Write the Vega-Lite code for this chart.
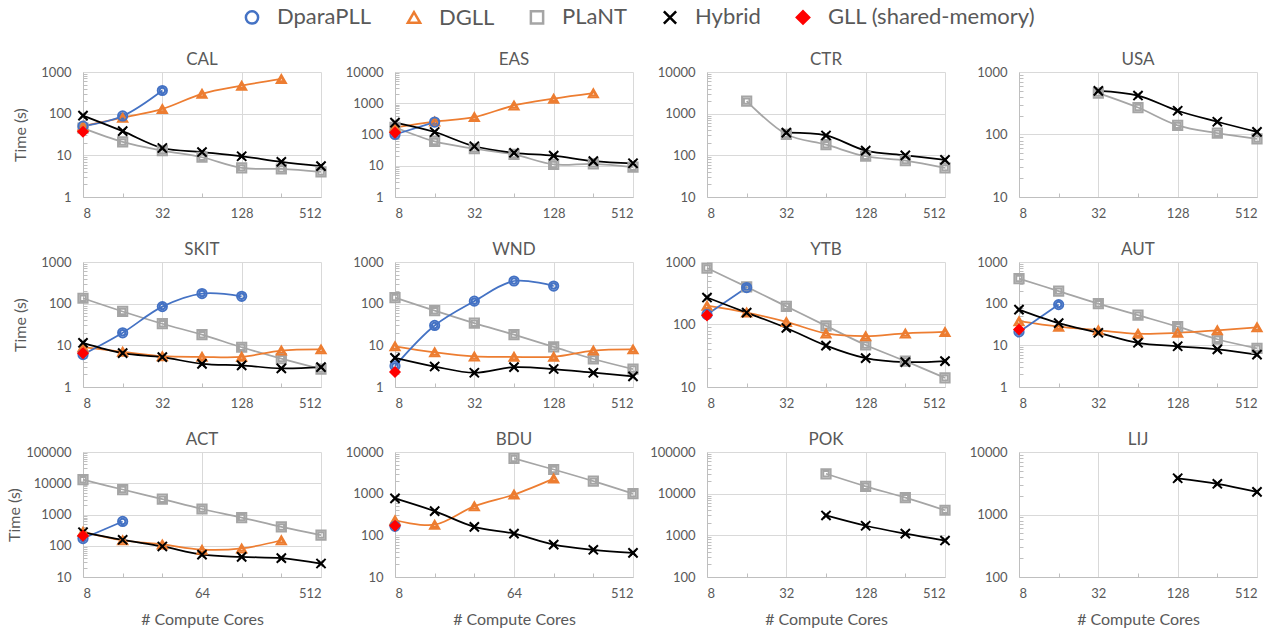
{
"$schema":"https://vega.github.io/schema/vega-lite/v6.json",
"autosize":{"type":"none"},
"padding":{"left":83,"top":72,"right":1190,"bottom":561},
"background":"white",
"columns":4,
"spacing":{"row":65,"column":74},
"bounds":"flush",
"data":{"values":[
{"panel":"CAL","series":"PLaNT","cores":8,"time":45},{"panel":"CAL","series":"PLaNT","cores":16,"time":21},{"panel":"CAL","series":"PLaNT","cores":32,"time":13},{"panel":"CAL","series":"PLaNT","cores":64,"time":9},{"panel":"CAL","series":"PLaNT","cores":128,"time":5},{"panel":"CAL","series":"PLaNT","cores":256,"time":4.7},{"panel":"CAL","series":"PLaNT","cores":512,"time":4},
{"panel":"CAL","series":"DGLL","cores":8,"time":50},{"panel":"CAL","series":"DGLL","cores":16,"time":80},{"panel":"CAL","series":"DGLL","cores":32,"time":130},{"panel":"CAL","series":"DGLL","cores":64,"time":300},{"panel":"CAL","series":"DGLL","cores":128,"time":470},{"panel":"CAL","series":"DGLL","cores":256,"time":680},
{"panel":"CAL","series":"DparaPLL","cores":8,"time":50},{"panel":"CAL","series":"DparaPLL","cores":16,"time":88},{"panel":"CAL","series":"DparaPLL","cores":32,"time":360},
{"panel":"CAL","series":"Hybrid","cores":8,"time":90},{"panel":"CAL","series":"Hybrid","cores":16,"time":38},{"panel":"CAL","series":"Hybrid","cores":32,"time":15},{"panel":"CAL","series":"Hybrid","cores":64,"time":12},{"panel":"CAL","series":"Hybrid","cores":128,"time":9.5},{"panel":"CAL","series":"Hybrid","cores":256,"time":7},{"panel":"CAL","series":"Hybrid","cores":512,"time":5.5},
{"panel":"CAL","series":"GLL (shared-memory)","cores":8,"time":37},
{"panel":"EAS","series":"PLaNT","cores":8,"time":170},{"panel":"EAS","series":"PLaNT","cores":16,"time":60},{"panel":"EAS","series":"PLaNT","cores":32,"time":35},{"panel":"EAS","series":"PLaNT","cores":64,"time":23},{"panel":"EAS","series":"PLaNT","cores":128,"time":11},{"panel":"EAS","series":"PLaNT","cores":256,"time":11.5},{"panel":"EAS","series":"PLaNT","cores":512,"time":9},
{"panel":"EAS","series":"DGLL","cores":8,"time":170},{"panel":"EAS","series":"DGLL","cores":16,"time":260},{"panel":"EAS","series":"DGLL","cores":32,"time":360},{"panel":"EAS","series":"DGLL","cores":64,"time":850},{"panel":"EAS","series":"DGLL","cores":128,"time":1400},{"panel":"EAS","series":"DGLL","cores":256,"time":2100},
{"panel":"EAS","series":"DparaPLL","cores":8,"time":100},{"panel":"EAS","series":"DparaPLL","cores":16,"time":250},
{"panel":"EAS","series":"Hybrid","cores":8,"time":240},{"panel":"EAS","series":"Hybrid","cores":16,"time":120},{"panel":"EAS","series":"Hybrid","cores":32,"time":42},{"panel":"EAS","series":"Hybrid","cores":64,"time":26},{"panel":"EAS","series":"Hybrid","cores":128,"time":21},{"panel":"EAS","series":"Hybrid","cores":256,"time":14},{"panel":"EAS","series":"Hybrid","cores":512,"time":12},
{"panel":"EAS","series":"GLL (shared-memory)","cores":8,"time":115},
{"panel":"CTR","series":"PLaNT","cores":16,"time":2000},{"panel":"CTR","series":"PLaNT","cores":32,"time":320},{"panel":"CTR","series":"PLaNT","cores":64,"time":180},{"panel":"CTR","series":"PLaNT","cores":128,"time":95},{"panel":"CTR","series":"PLaNT","cores":256,"time":75},{"panel":"CTR","series":"PLaNT","cores":512,"time":50},
{"panel":"CTR","series":"Hybrid","cores":32,"time":350},{"panel":"CTR","series":"Hybrid","cores":64,"time":300},{"panel":"CTR","series":"Hybrid","cores":128,"time":130},{"panel":"CTR","series":"Hybrid","cores":256,"time":100},{"panel":"CTR","series":"Hybrid","cores":512,"time":78},
{"panel":"USA","series":"PLaNT","cores":32,"time":460},{"panel":"USA","series":"PLaNT","cores":64,"time":270},{"panel":"USA","series":"PLaNT","cores":128,"time":140},{"panel":"USA","series":"PLaNT","cores":256,"time":105},{"panel":"USA","series":"PLaNT","cores":512,"time":85},
{"panel":"USA","series":"Hybrid","cores":32,"time":500},{"panel":"USA","series":"Hybrid","cores":64,"time":420},{"panel":"USA","series":"Hybrid","cores":128,"time":240},{"panel":"USA","series":"Hybrid","cores":256,"time":160},{"panel":"USA","series":"Hybrid","cores":512,"time":110},
{"panel":"SKIT","series":"PLaNT","cores":8,"time":135},{"panel":"SKIT","series":"PLaNT","cores":16,"time":65},{"panel":"SKIT","series":"PLaNT","cores":32,"time":33},{"panel":"SKIT","series":"PLaNT","cores":64,"time":18},{"panel":"SKIT","series":"PLaNT","cores":128,"time":9},{"panel":"SKIT","series":"PLaNT","cores":256,"time":4.8},{"panel":"SKIT","series":"PLaNT","cores":512,"time":2.7},
{"panel":"SKIT","series":"DGLL","cores":8,"time":9},{"panel":"SKIT","series":"DGLL","cores":16,"time":7},{"panel":"SKIT","series":"DGLL","cores":32,"time":5.5},{"panel":"SKIT","series":"DGLL","cores":64,"time":5.3},{"panel":"SKIT","series":"DGLL","cores":128,"time":5.3},{"panel":"SKIT","series":"DGLL","cores":256,"time":7.5},{"panel":"SKIT","series":"DGLL","cores":512,"time":8},
{"panel":"SKIT","series":"DparaPLL","cores":8,"time":6},{"panel":"SKIT","series":"DparaPLL","cores":16,"time":20},{"panel":"SKIT","series":"DparaPLL","cores":32,"time":85},{"panel":"SKIT","series":"DparaPLL","cores":64,"time":175},{"panel":"SKIT","series":"DparaPLL","cores":128,"time":150},
{"panel":"SKIT","series":"Hybrid","cores":8,"time":11.5},{"panel":"SKIT","series":"Hybrid","cores":16,"time":6.5},{"panel":"SKIT","series":"Hybrid","cores":32,"time":5.2},{"panel":"SKIT","series":"Hybrid","cores":64,"time":3.6},{"panel":"SKIT","series":"Hybrid","cores":128,"time":3.3},{"panel":"SKIT","series":"Hybrid","cores":256,"time":2.8},{"panel":"SKIT","series":"Hybrid","cores":512,"time":3.0},
{"panel":"SKIT","series":"GLL (shared-memory)","cores":8,"time":6.5},
{"panel":"WND","series":"PLaNT","cores":8,"time":140},{"panel":"WND","series":"PLaNT","cores":16,"time":68},{"panel":"WND","series":"PLaNT","cores":32,"time":34},{"panel":"WND","series":"PLaNT","cores":64,"time":18},{"panel":"WND","series":"PLaNT","cores":128,"time":9.2},{"panel":"WND","series":"PLaNT","cores":256,"time":4.7},{"panel":"WND","series":"PLaNT","cores":512,"time":2.7},
{"panel":"WND","series":"DGLL","cores":8,"time":9.5},{"panel":"WND","series":"DGLL","cores":16,"time":6.8},{"panel":"WND","series":"DGLL","cores":32,"time":5.4},{"panel":"WND","series":"DGLL","cores":64,"time":5.3},{"panel":"WND","series":"DGLL","cores":128,"time":5.3},{"panel":"WND","series":"DGLL","cores":256,"time":7.5},{"panel":"WND","series":"DGLL","cores":512,"time":8},
{"panel":"WND","series":"DparaPLL","cores":8,"time":3.2},{"panel":"WND","series":"DparaPLL","cores":16,"time":30},{"panel":"WND","series":"DparaPLL","cores":32,"time":115},{"panel":"WND","series":"DparaPLL","cores":64,"time":350},{"panel":"WND","series":"DparaPLL","cores":128,"time":265},
{"panel":"WND","series":"Hybrid","cores":8,"time":5},{"panel":"WND","series":"Hybrid","cores":16,"time":3.1},{"panel":"WND","series":"Hybrid","cores":32,"time":2.2},{"panel":"WND","series":"Hybrid","cores":64,"time":3.0},{"panel":"WND","series":"Hybrid","cores":128,"time":2.7},{"panel":"WND","series":"Hybrid","cores":256,"time":2.2},{"panel":"WND","series":"Hybrid","cores":512,"time":1.8},
{"panel":"WND","series":"GLL (shared-memory)","cores":8,"time":2.3},
{"panel":"YTB","series":"PLaNT","cores":8,"time":800},{"panel":"YTB","series":"PLaNT","cores":16,"time":400},{"panel":"YTB","series":"PLaNT","cores":32,"time":195},{"panel":"YTB","series":"PLaNT","cores":64,"time":95},{"panel":"YTB","series":"PLaNT","cores":128,"time":47},{"panel":"YTB","series":"PLaNT","cores":256,"time":26},{"panel":"YTB","series":"PLaNT","cores":512,"time":14},
{"panel":"YTB","series":"DGLL","cores":8,"time":200},{"panel":"YTB","series":"DGLL","cores":16,"time":155},{"panel":"YTB","series":"DGLL","cores":32,"time":110},{"panel":"YTB","series":"DGLL","cores":64,"time":72},{"panel":"YTB","series":"DGLL","cores":128,"time":65},{"panel":"YTB","series":"DGLL","cores":256,"time":72},{"panel":"YTB","series":"DGLL","cores":512,"time":76},
{"panel":"YTB","series":"DparaPLL","cores":8,"time":145},{"panel":"YTB","series":"DparaPLL","cores":16,"time":390},
{"panel":"YTB","series":"Hybrid","cores":8,"time":270},{"panel":"YTB","series":"Hybrid","cores":16,"time":155},{"panel":"YTB","series":"Hybrid","cores":32,"time":88},{"panel":"YTB","series":"Hybrid","cores":64,"time":46},{"panel":"YTB","series":"Hybrid","cores":128,"time":29},{"panel":"YTB","series":"Hybrid","cores":256,"time":25},{"panel":"YTB","series":"Hybrid","cores":512,"time":26},
{"panel":"YTB","series":"GLL (shared-memory)","cores":8,"time":140},
{"panel":"AUT","series":"PLaNT","cores":8,"time":400},{"panel":"AUT","series":"PLaNT","cores":16,"time":200},{"panel":"AUT","series":"PLaNT","cores":32,"time":100},{"panel":"AUT","series":"PLaNT","cores":64,"time":53},{"panel":"AUT","series":"PLaNT","cores":128,"time":28},{"panel":"AUT","series":"PLaNT","cores":256,"time":14},{"panel":"AUT","series":"PLaNT","cores":512,"time":8.5},
{"panel":"AUT","series":"DGLL","cores":8,"time":38},{"panel":"AUT","series":"DGLL","cores":16,"time":28},{"panel":"AUT","series":"DGLL","cores":32,"time":23},{"panel":"AUT","series":"DGLL","cores":64,"time":19},{"panel":"AUT","series":"DGLL","cores":128,"time":20},{"panel":"AUT","series":"DGLL","cores":256,"time":23},{"panel":"AUT","series":"DGLL","cores":512,"time":27},
{"panel":"AUT","series":"DparaPLL","cores":8,"time":21},{"panel":"AUT","series":"DparaPLL","cores":16,"time":95},
{"panel":"AUT","series":"Hybrid","cores":8,"time":72},{"panel":"AUT","series":"Hybrid","cores":16,"time":34},{"panel":"AUT","series":"Hybrid","cores":32,"time":20},{"panel":"AUT","series":"Hybrid","cores":64,"time":11.5},{"panel":"AUT","series":"Hybrid","cores":128,"time":9.5},{"panel":"AUT","series":"Hybrid","cores":256,"time":8},{"panel":"AUT","series":"Hybrid","cores":512,"time":6},
{"panel":"AUT","series":"GLL (shared-memory)","cores":8,"time":24},
{"panel":"ACT","series":"PLaNT","cores":8,"time":13000},{"panel":"ACT","series":"PLaNT","cores":16,"time":6300},{"panel":"ACT","series":"PLaNT","cores":32,"time":3100},{"panel":"ACT","series":"PLaNT","cores":64,"time":1500},{"panel":"ACT","series":"PLaNT","cores":128,"time":800},{"panel":"ACT","series":"PLaNT","cores":256,"time":400},{"panel":"ACT","series":"PLaNT","cores":512,"time":220},
{"panel":"ACT","series":"DGLL","cores":8,"time":280},{"panel":"ACT","series":"DGLL","cores":16,"time":150},{"panel":"ACT","series":"DGLL","cores":32,"time":110},{"panel":"ACT","series":"DGLL","cores":64,"time":75},{"panel":"ACT","series":"DGLL","cores":128,"time":82},{"panel":"ACT","series":"DGLL","cores":256,"time":150},
{"panel":"ACT","series":"DparaPLL","cores":8,"time":170},{"panel":"ACT","series":"DparaPLL","cores":16,"time":600},
{"panel":"ACT","series":"Hybrid","cores":8,"time":270},{"panel":"ACT","series":"Hybrid","cores":16,"time":155},{"panel":"ACT","series":"Hybrid","cores":32,"time":95},{"panel":"ACT","series":"Hybrid","cores":64,"time":52},{"panel":"ACT","series":"Hybrid","cores":128,"time":44},{"panel":"ACT","series":"Hybrid","cores":256,"time":40},{"panel":"ACT","series":"Hybrid","cores":512,"time":27},
{"panel":"ACT","series":"GLL (shared-memory)","cores":8,"time":210},
{"panel":"BDU","series":"PLaNT","cores":64,"time":7000},{"panel":"BDU","series":"PLaNT","cores":128,"time":3800},{"panel":"BDU","series":"PLaNT","cores":256,"time":2000},{"panel":"BDU","series":"PLaNT","cores":512,"time":1000},
{"panel":"BDU","series":"DGLL","cores":8,"time":230},{"panel":"BDU","series":"DGLL","cores":16,"time":180},{"panel":"BDU","series":"DGLL","cores":32,"time":500},{"panel":"BDU","series":"DGLL","cores":64,"time":950},{"panel":"BDU","series":"DGLL","cores":128,"time":2300},
{"panel":"BDU","series":"DparaPLL","cores":8,"time":165},
{"panel":"BDU","series":"Hybrid","cores":8,"time":770},{"panel":"BDU","series":"Hybrid","cores":16,"time":380},{"panel":"BDU","series":"Hybrid","cores":32,"time":160},{"panel":"BDU","series":"Hybrid","cores":64,"time":110},{"panel":"BDU","series":"Hybrid","cores":128,"time":60},{"panel":"BDU","series":"Hybrid","cores":256,"time":45},{"panel":"BDU","series":"Hybrid","cores":512,"time":38},
{"panel":"BDU","series":"GLL (shared-memory)","cores":8,"time":170},
{"panel":"POK","series":"PLaNT","cores":64,"time":30000},{"panel":"POK","series":"PLaNT","cores":128,"time":15000},{"panel":"POK","series":"PLaNT","cores":256,"time":8000},{"panel":"POK","series":"PLaNT","cores":512,"time":4000},
{"panel":"POK","series":"Hybrid","cores":64,"time":3000},{"panel":"POK","series":"Hybrid","cores":128,"time":1700},{"panel":"POK","series":"Hybrid","cores":256,"time":1100},{"panel":"POK","series":"Hybrid","cores":512,"time":750},
{"panel":"LIJ","series":"Hybrid","cores":128,"time":3800},{"panel":"LIJ","series":"Hybrid","cores":256,"time":3100},{"panel":"LIJ","series":"Hybrid","cores":512,"time":2300}
]},
"concat":[
{"title":"CAL","width":238,"height":125,"transform":[{"filter":"datum.panel==='CAL'"}],
 "encoding":{
  "x":{"field":"cores","type":"quantitative","scale":{"type":"log","base":2,"domain":[8,512],"nice":false},"axis":{"values":[8,16,32,64,128,256,512],"title":null,"format":"d","labelOverlap":false,"labelExpr":"indexof([8,32,128,512],datum.value)>=0?datum.label:''","gridOpacity":{"condition":{"test":"indexof([8,32,128,512],datum.value)>=0","value":1},"value":0},"tickOpacity":{"condition":{"test":"indexof([8,32,128,512],datum.value)>=0","value":0},"value":1}}},
  "y":{"field":"time","type":"quantitative","scale":{"type":"log","domain":[1,1000],"nice":false},"axis":{"values":[1,2,3,4,5,6,7,8,9,10,20,30,40,50,60,70,80,90,100,200,300,400,500,600,700,800,900,1000],"title":"Time (s)","format":"d","labelOverlap":false,"labelExpr":"indexof([1,10,100,1000,10000,100000],datum.value)>=0?datum.label:''","gridOpacity":{"condition":{"test":"indexof([1,10,100,1000,10000,100000],datum.value)>=0","value":1},"value":0},"tickOpacity":{"condition":{"test":"indexof([1,10,100,1000,10000,100000],datum.value)>=0","value":0},"value":1}}},
  "stroke":{"field":"series","type":"nominal","scale":{"domain":["DparaPLL","DGLL","PLaNT","Hybrid","GLL (shared-memory)"],"range":["#4472C4","#ED7D31","#A5A5A5","#000000","#FF0000"]},"legend":{"title":null,"orient":"none","legendX":158,"legendY":-66,"direction":"horizontal","labelFontSize":22,"labelLimit":0,"labelColor":"#595959","symbolSize":150,"symbolStrokeWidth":2.5,"columnPadding":30,"labelOffset":14}},
  "fill":{"field":"series","type":"nominal","scale":{"domain":["DparaPLL","DGLL","PLaNT","Hybrid","GLL (shared-memory)"],"range":["transparent","transparent","transparent","transparent","#FF0000"]},"legend":{"title":null}},
  "shape":{"field":"series","type":"nominal","scale":{"domain":["DparaPLL","DGLL","PLaNT","Hybrid","GLL (shared-memory)"],"range":["circle","triangle-up","square","M-1,-1L1,1M-1,1L1,-1","diamond"]},"legend":{"title":null}}
 },
 "layer":[{"mark":{"type":"line","interpolate":"catmull-rom","strokeWidth":1.75}},{"mark":{"type":"point","filled":true,"size":85,"strokeWidth":2,"opacity":1}}]},
{"title":"EAS","width":238,"height":125,"transform":[{"filter":"datum.panel==='EAS'"}],
 "encoding":{
  "x":{"field":"cores","type":"quantitative","scale":{"type":"log","base":2,"domain":[8,512],"nice":false},"axis":{"values":[8,16,32,64,128,256,512],"title":null,"format":"d","labelOverlap":false,"labelExpr":"indexof([8,32,128,512],datum.value)>=0?datum.label:''","gridOpacity":{"condition":{"test":"indexof([8,32,128,512],datum.value)>=0","value":1},"value":0},"tickOpacity":{"condition":{"test":"indexof([8,32,128,512],datum.value)>=0","value":0},"value":1}}},
  "y":{"field":"time","type":"quantitative","scale":{"type":"log","domain":[1,10000],"nice":false},"axis":{"values":[1,2,3,4,5,6,7,8,9,10,20,30,40,50,60,70,80,90,100,200,300,400,500,600,700,800,900,1000,2000,3000,4000,5000,6000,7000,8000,9000,10000],"title":null,"format":"d","labelOverlap":false,"labelExpr":"indexof([1,10,100,1000,10000,100000],datum.value)>=0?datum.label:''","gridOpacity":{"condition":{"test":"indexof([1,10,100,1000,10000,100000],datum.value)>=0","value":1},"value":0},"tickOpacity":{"condition":{"test":"indexof([1,10,100,1000,10000,100000],datum.value)>=0","value":0},"value":1}}},
  "stroke":{"field":"series","type":"nominal","scale":{"domain":["DparaPLL","DGLL","PLaNT","Hybrid","GLL (shared-memory)"],"range":["#4472C4","#ED7D31","#A5A5A5","#000000","#FF0000"]},"legend":{"title":null,"orient":"none","legendX":158,"legendY":-66,"direction":"horizontal","labelFontSize":22,"labelLimit":0,"labelColor":"#595959","symbolSize":150,"symbolStrokeWidth":2.5,"columnPadding":30,"labelOffset":14}},
  "fill":{"field":"series","type":"nominal","scale":{"domain":["DparaPLL","DGLL","PLaNT","Hybrid","GLL (shared-memory)"],"range":["transparent","transparent","transparent","transparent","#FF0000"]},"legend":{"title":null}},
  "shape":{"field":"series","type":"nominal","scale":{"domain":["DparaPLL","DGLL","PLaNT","Hybrid","GLL (shared-memory)"],"range":["circle","triangle-up","square","M-1,-1L1,1M-1,1L1,-1","diamond"]},"legend":{"title":null}}
 },
 "layer":[{"mark":{"type":"line","interpolate":"catmull-rom","strokeWidth":1.75}},{"mark":{"type":"point","filled":true,"size":85,"strokeWidth":2,"opacity":1}}]},
{"title":"CTR","width":238,"height":125,"transform":[{"filter":"datum.panel==='CTR'"}],
 "encoding":{
  "x":{"field":"cores","type":"quantitative","scale":{"type":"log","base":2,"domain":[8,512],"nice":false},"axis":{"values":[8,16,32,64,128,256,512],"title":null,"format":"d","labelOverlap":false,"labelExpr":"indexof([8,32,128,512],datum.value)>=0?datum.label:''","gridOpacity":{"condition":{"test":"indexof([8,32,128,512],datum.value)>=0","value":1},"value":0},"tickOpacity":{"condition":{"test":"indexof([8,32,128,512],datum.value)>=0","value":0},"value":1}}},
  "y":{"field":"time","type":"quantitative","scale":{"type":"log","domain":[10,10000],"nice":false},"axis":{"values":[10,20,30,40,50,60,70,80,90,100,200,300,400,500,600,700,800,900,1000,2000,3000,4000,5000,6000,7000,8000,9000,10000],"title":null,"format":"d","labelOverlap":false,"labelExpr":"indexof([1,10,100,1000,10000,100000],datum.value)>=0?datum.label:''","gridOpacity":{"condition":{"test":"indexof([1,10,100,1000,10000,100000],datum.value)>=0","value":1},"value":0},"tickOpacity":{"condition":{"test":"indexof([1,10,100,1000,10000,100000],datum.value)>=0","value":0},"value":1}}},
  "stroke":{"field":"series","type":"nominal","scale":{"domain":["DparaPLL","DGLL","PLaNT","Hybrid","GLL (shared-memory)"],"range":["#4472C4","#ED7D31","#A5A5A5","#000000","#FF0000"]},"legend":{"title":null,"orient":"none","legendX":158,"legendY":-66,"direction":"horizontal","labelFontSize":22,"labelLimit":0,"labelColor":"#595959","symbolSize":150,"symbolStrokeWidth":2.5,"columnPadding":30,"labelOffset":14}},
  "fill":{"field":"series","type":"nominal","scale":{"domain":["DparaPLL","DGLL","PLaNT","Hybrid","GLL (shared-memory)"],"range":["transparent","transparent","transparent","transparent","#FF0000"]},"legend":{"title":null}},
  "shape":{"field":"series","type":"nominal","scale":{"domain":["DparaPLL","DGLL","PLaNT","Hybrid","GLL (shared-memory)"],"range":["circle","triangle-up","square","M-1,-1L1,1M-1,1L1,-1","diamond"]},"legend":{"title":null}}
 },
 "layer":[{"mark":{"type":"line","interpolate":"catmull-rom","strokeWidth":1.75}},{"mark":{"type":"point","filled":true,"size":85,"strokeWidth":2,"opacity":1}}]},
{"title":"USA","width":238,"height":125,"transform":[{"filter":"datum.panel==='USA'"}],
 "encoding":{
  "x":{"field":"cores","type":"quantitative","scale":{"type":"log","base":2,"domain":[8,512],"nice":false},"axis":{"values":[8,16,32,64,128,256,512],"title":null,"format":"d","labelOverlap":false,"labelExpr":"indexof([8,32,128,512],datum.value)>=0?datum.label:''","gridOpacity":{"condition":{"test":"indexof([8,32,128,512],datum.value)>=0","value":1},"value":0},"tickOpacity":{"condition":{"test":"indexof([8,32,128,512],datum.value)>=0","value":0},"value":1}}},
  "y":{"field":"time","type":"quantitative","scale":{"type":"log","domain":[10,1000],"nice":false},"axis":{"values":[10,20,30,40,50,60,70,80,90,100,200,300,400,500,600,700,800,900,1000],"title":null,"format":"d","labelOverlap":false,"labelExpr":"indexof([1,10,100,1000,10000,100000],datum.value)>=0?datum.label:''","gridOpacity":{"condition":{"test":"indexof([1,10,100,1000,10000,100000],datum.value)>=0","value":1},"value":0},"tickOpacity":{"condition":{"test":"indexof([1,10,100,1000,10000,100000],datum.value)>=0","value":0},"value":1}}},
  "stroke":{"field":"series","type":"nominal","scale":{"domain":["DparaPLL","DGLL","PLaNT","Hybrid","GLL (shared-memory)"],"range":["#4472C4","#ED7D31","#A5A5A5","#000000","#FF0000"]},"legend":{"title":null,"orient":"none","legendX":158,"legendY":-66,"direction":"horizontal","labelFontSize":22,"labelLimit":0,"labelColor":"#595959","symbolSize":150,"symbolStrokeWidth":2.5,"columnPadding":30,"labelOffset":14}},
  "fill":{"field":"series","type":"nominal","scale":{"domain":["DparaPLL","DGLL","PLaNT","Hybrid","GLL (shared-memory)"],"range":["transparent","transparent","transparent","transparent","#FF0000"]},"legend":{"title":null}},
  "shape":{"field":"series","type":"nominal","scale":{"domain":["DparaPLL","DGLL","PLaNT","Hybrid","GLL (shared-memory)"],"range":["circle","triangle-up","square","M-1,-1L1,1M-1,1L1,-1","diamond"]},"legend":{"title":null}}
 },
 "layer":[{"mark":{"type":"line","interpolate":"catmull-rom","strokeWidth":1.75}},{"mark":{"type":"point","filled":true,"size":85,"strokeWidth":2,"opacity":1}}]},
{"title":"SKIT","width":238,"height":125,"transform":[{"filter":"datum.panel==='SKIT'"}],
 "encoding":{
  "x":{"field":"cores","type":"quantitative","scale":{"type":"log","base":2,"domain":[8,512],"nice":false},"axis":{"values":[8,16,32,64,128,256,512],"title":null,"format":"d","labelOverlap":false,"labelExpr":"indexof([8,32,128,512],datum.value)>=0?datum.label:''","gridOpacity":{"condition":{"test":"indexof([8,32,128,512],datum.value)>=0","value":1},"value":0},"tickOpacity":{"condition":{"test":"indexof([8,32,128,512],datum.value)>=0","value":0},"value":1}}},
  "y":{"field":"time","type":"quantitative","scale":{"type":"log","domain":[1,1000],"nice":false},"axis":{"values":[1,2,3,4,5,6,7,8,9,10,20,30,40,50,60,70,80,90,100,200,300,400,500,600,700,800,900,1000],"title":"Time (s)","format":"d","labelOverlap":false,"labelExpr":"indexof([1,10,100,1000,10000,100000],datum.value)>=0?datum.label:''","gridOpacity":{"condition":{"test":"indexof([1,10,100,1000,10000,100000],datum.value)>=0","value":1},"value":0},"tickOpacity":{"condition":{"test":"indexof([1,10,100,1000,10000,100000],datum.value)>=0","value":0},"value":1}}},
  "stroke":{"field":"series","type":"nominal","scale":{"domain":["DparaPLL","DGLL","PLaNT","Hybrid","GLL (shared-memory)"],"range":["#4472C4","#ED7D31","#A5A5A5","#000000","#FF0000"]},"legend":{"title":null,"orient":"none","legendX":158,"legendY":-66,"direction":"horizontal","labelFontSize":22,"labelLimit":0,"labelColor":"#595959","symbolSize":150,"symbolStrokeWidth":2.5,"columnPadding":30,"labelOffset":14}},
  "fill":{"field":"series","type":"nominal","scale":{"domain":["DparaPLL","DGLL","PLaNT","Hybrid","GLL (shared-memory)"],"range":["transparent","transparent","transparent","transparent","#FF0000"]},"legend":{"title":null}},
  "shape":{"field":"series","type":"nominal","scale":{"domain":["DparaPLL","DGLL","PLaNT","Hybrid","GLL (shared-memory)"],"range":["circle","triangle-up","square","M-1,-1L1,1M-1,1L1,-1","diamond"]},"legend":{"title":null}}
 },
 "layer":[{"mark":{"type":"line","interpolate":"catmull-rom","strokeWidth":1.75}},{"mark":{"type":"point","filled":true,"size":85,"strokeWidth":2,"opacity":1}}]},
{"title":"WND","width":238,"height":125,"transform":[{"filter":"datum.panel==='WND'"}],
 "encoding":{
  "x":{"field":"cores","type":"quantitative","scale":{"type":"log","base":2,"domain":[8,512],"nice":false},"axis":{"values":[8,16,32,64,128,256,512],"title":null,"format":"d","labelOverlap":false,"labelExpr":"indexof([8,32,128,512],datum.value)>=0?datum.label:''","gridOpacity":{"condition":{"test":"indexof([8,32,128,512],datum.value)>=0","value":1},"value":0},"tickOpacity":{"condition":{"test":"indexof([8,32,128,512],datum.value)>=0","value":0},"value":1}}},
  "y":{"field":"time","type":"quantitative","scale":{"type":"log","domain":[1,1000],"nice":false},"axis":{"values":[1,2,3,4,5,6,7,8,9,10,20,30,40,50,60,70,80,90,100,200,300,400,500,600,700,800,900,1000],"title":null,"format":"d","labelOverlap":false,"labelExpr":"indexof([1,10,100,1000,10000,100000],datum.value)>=0?datum.label:''","gridOpacity":{"condition":{"test":"indexof([1,10,100,1000,10000,100000],datum.value)>=0","value":1},"value":0},"tickOpacity":{"condition":{"test":"indexof([1,10,100,1000,10000,100000],datum.value)>=0","value":0},"value":1}}},
  "stroke":{"field":"series","type":"nominal","scale":{"domain":["DparaPLL","DGLL","PLaNT","Hybrid","GLL (shared-memory)"],"range":["#4472C4","#ED7D31","#A5A5A5","#000000","#FF0000"]},"legend":{"title":null,"orient":"none","legendX":158,"legendY":-66,"direction":"horizontal","labelFontSize":22,"labelLimit":0,"labelColor":"#595959","symbolSize":150,"symbolStrokeWidth":2.5,"columnPadding":30,"labelOffset":14}},
  "fill":{"field":"series","type":"nominal","scale":{"domain":["DparaPLL","DGLL","PLaNT","Hybrid","GLL (shared-memory)"],"range":["transparent","transparent","transparent","transparent","#FF0000"]},"legend":{"title":null}},
  "shape":{"field":"series","type":"nominal","scale":{"domain":["DparaPLL","DGLL","PLaNT","Hybrid","GLL (shared-memory)"],"range":["circle","triangle-up","square","M-1,-1L1,1M-1,1L1,-1","diamond"]},"legend":{"title":null}}
 },
 "layer":[{"mark":{"type":"line","interpolate":"catmull-rom","strokeWidth":1.75}},{"mark":{"type":"point","filled":true,"size":85,"strokeWidth":2,"opacity":1}}]},
{"title":"YTB","width":238,"height":125,"transform":[{"filter":"datum.panel==='YTB'"}],
 "encoding":{
  "x":{"field":"cores","type":"quantitative","scale":{"type":"log","base":2,"domain":[8,512],"nice":false},"axis":{"values":[8,16,32,64,128,256,512],"title":null,"format":"d","labelOverlap":false,"labelExpr":"indexof([8,32,128,512],datum.value)>=0?datum.label:''","gridOpacity":{"condition":{"test":"indexof([8,32,128,512],datum.value)>=0","value":1},"value":0},"tickOpacity":{"condition":{"test":"indexof([8,32,128,512],datum.value)>=0","value":0},"value":1}}},
  "y":{"field":"time","type":"quantitative","scale":{"type":"log","domain":[10,1000],"nice":false},"axis":{"values":[10,20,30,40,50,60,70,80,90,100,200,300,400,500,600,700,800,900,1000],"title":null,"format":"d","labelOverlap":false,"labelExpr":"indexof([1,10,100,1000,10000,100000],datum.value)>=0?datum.label:''","gridOpacity":{"condition":{"test":"indexof([1,10,100,1000,10000,100000],datum.value)>=0","value":1},"value":0},"tickOpacity":{"condition":{"test":"indexof([1,10,100,1000,10000,100000],datum.value)>=0","value":0},"value":1}}},
  "stroke":{"field":"series","type":"nominal","scale":{"domain":["DparaPLL","DGLL","PLaNT","Hybrid","GLL (shared-memory)"],"range":["#4472C4","#ED7D31","#A5A5A5","#000000","#FF0000"]},"legend":{"title":null,"orient":"none","legendX":158,"legendY":-66,"direction":"horizontal","labelFontSize":22,"labelLimit":0,"labelColor":"#595959","symbolSize":150,"symbolStrokeWidth":2.5,"columnPadding":30,"labelOffset":14}},
  "fill":{"field":"series","type":"nominal","scale":{"domain":["DparaPLL","DGLL","PLaNT","Hybrid","GLL (shared-memory)"],"range":["transparent","transparent","transparent","transparent","#FF0000"]},"legend":{"title":null}},
  "shape":{"field":"series","type":"nominal","scale":{"domain":["DparaPLL","DGLL","PLaNT","Hybrid","GLL (shared-memory)"],"range":["circle","triangle-up","square","M-1,-1L1,1M-1,1L1,-1","diamond"]},"legend":{"title":null}}
 },
 "layer":[{"mark":{"type":"line","interpolate":"catmull-rom","strokeWidth":1.75}},{"mark":{"type":"point","filled":true,"size":85,"strokeWidth":2,"opacity":1}}]},
{"title":"AUT","width":238,"height":125,"transform":[{"filter":"datum.panel==='AUT'"}],
 "encoding":{
  "x":{"field":"cores","type":"quantitative","scale":{"type":"log","base":2,"domain":[8,512],"nice":false},"axis":{"values":[8,16,32,64,128,256,512],"title":null,"format":"d","labelOverlap":false,"labelExpr":"indexof([8,32,128,512],datum.value)>=0?datum.label:''","gridOpacity":{"condition":{"test":"indexof([8,32,128,512],datum.value)>=0","value":1},"value":0},"tickOpacity":{"condition":{"test":"indexof([8,32,128,512],datum.value)>=0","value":0},"value":1}}},
  "y":{"field":"time","type":"quantitative","scale":{"type":"log","domain":[1,1000],"nice":false},"axis":{"values":[1,2,3,4,5,6,7,8,9,10,20,30,40,50,60,70,80,90,100,200,300,400,500,600,700,800,900,1000],"title":null,"format":"d","labelOverlap":false,"labelExpr":"indexof([1,10,100,1000,10000,100000],datum.value)>=0?datum.label:''","gridOpacity":{"condition":{"test":"indexof([1,10,100,1000,10000,100000],datum.value)>=0","value":1},"value":0},"tickOpacity":{"condition":{"test":"indexof([1,10,100,1000,10000,100000],datum.value)>=0","value":0},"value":1}}},
  "stroke":{"field":"series","type":"nominal","scale":{"domain":["DparaPLL","DGLL","PLaNT","Hybrid","GLL (shared-memory)"],"range":["#4472C4","#ED7D31","#A5A5A5","#000000","#FF0000"]},"legend":{"title":null,"orient":"none","legendX":158,"legendY":-66,"direction":"horizontal","labelFontSize":22,"labelLimit":0,"labelColor":"#595959","symbolSize":150,"symbolStrokeWidth":2.5,"columnPadding":30,"labelOffset":14}},
  "fill":{"field":"series","type":"nominal","scale":{"domain":["DparaPLL","DGLL","PLaNT","Hybrid","GLL (shared-memory)"],"range":["transparent","transparent","transparent","transparent","#FF0000"]},"legend":{"title":null}},
  "shape":{"field":"series","type":"nominal","scale":{"domain":["DparaPLL","DGLL","PLaNT","Hybrid","GLL (shared-memory)"],"range":["circle","triangle-up","square","M-1,-1L1,1M-1,1L1,-1","diamond"]},"legend":{"title":null}}
 },
 "layer":[{"mark":{"type":"line","interpolate":"catmull-rom","strokeWidth":1.75}},{"mark":{"type":"point","filled":true,"size":85,"strokeWidth":2,"opacity":1}}]},
{"title":"ACT","width":238,"height":125,"transform":[{"filter":"datum.panel==='ACT'"}],
 "encoding":{
  "x":{"field":"cores","type":"quantitative","scale":{"type":"log","base":2,"domain":[8,512],"nice":false},"axis":{"values":[8,16,32,64,128,256,512],"title":"# Compute Cores","format":"d","labelOverlap":false,"labelExpr":"indexof([8,64,512],datum.value)>=0?datum.label:''","gridOpacity":{"condition":{"test":"indexof([8,64,512],datum.value)>=0","value":1},"value":0},"tickOpacity":{"condition":{"test":"indexof([8,64,512],datum.value)>=0","value":0},"value":1}}},
  "y":{"field":"time","type":"quantitative","scale":{"type":"log","domain":[10,100000],"nice":false},"axis":{"values":[10,20,30,40,50,60,70,80,90,100,200,300,400,500,600,700,800,900,1000,2000,3000,4000,5000,6000,7000,8000,9000,10000,20000,30000,40000,50000,60000,70000,80000,90000,100000],"title":"Time (s)","titlePadding":3,"format":"d","labelOverlap":false,"labelExpr":"indexof([1,10,100,1000,10000,100000],datum.value)>=0?datum.label:''","gridOpacity":{"condition":{"test":"indexof([1,10,100,1000,10000,100000],datum.value)>=0","value":1},"value":0},"tickOpacity":{"condition":{"test":"indexof([1,10,100,1000,10000,100000],datum.value)>=0","value":0},"value":1}}},
  "stroke":{"field":"series","type":"nominal","scale":{"domain":["DparaPLL","DGLL","PLaNT","Hybrid","GLL (shared-memory)"],"range":["#4472C4","#ED7D31","#A5A5A5","#000000","#FF0000"]},"legend":{"title":null,"orient":"none","legendX":158,"legendY":-66,"direction":"horizontal","labelFontSize":22,"labelLimit":0,"labelColor":"#595959","symbolSize":150,"symbolStrokeWidth":2.5,"columnPadding":30,"labelOffset":14}},
  "fill":{"field":"series","type":"nominal","scale":{"domain":["DparaPLL","DGLL","PLaNT","Hybrid","GLL (shared-memory)"],"range":["transparent","transparent","transparent","transparent","#FF0000"]},"legend":{"title":null}},
  "shape":{"field":"series","type":"nominal","scale":{"domain":["DparaPLL","DGLL","PLaNT","Hybrid","GLL (shared-memory)"],"range":["circle","triangle-up","square","M-1,-1L1,1M-1,1L1,-1","diamond"]},"legend":{"title":null}}
 },
 "layer":[{"mark":{"type":"line","interpolate":"catmull-rom","strokeWidth":1.75}},{"mark":{"type":"point","filled":true,"size":85,"strokeWidth":2,"opacity":1}}]},
{"title":"BDU","width":238,"height":125,"transform":[{"filter":"datum.panel==='BDU'"}],
 "encoding":{
  "x":{"field":"cores","type":"quantitative","scale":{"type":"log","base":2,"domain":[8,512],"nice":false},"axis":{"values":[8,16,32,64,128,256,512],"title":"# Compute Cores","format":"d","labelOverlap":false,"labelExpr":"indexof([8,64,512],datum.value)>=0?datum.label:''","gridOpacity":{"condition":{"test":"indexof([8,64,512],datum.value)>=0","value":1},"value":0},"tickOpacity":{"condition":{"test":"indexof([8,64,512],datum.value)>=0","value":0},"value":1}}},
  "y":{"field":"time","type":"quantitative","scale":{"type":"log","domain":[10,10000],"nice":false},"axis":{"values":[10,20,30,40,50,60,70,80,90,100,200,300,400,500,600,700,800,900,1000,2000,3000,4000,5000,6000,7000,8000,9000,10000],"title":null,"format":"d","labelOverlap":false,"labelExpr":"indexof([1,10,100,1000,10000,100000],datum.value)>=0?datum.label:''","gridOpacity":{"condition":{"test":"indexof([1,10,100,1000,10000,100000],datum.value)>=0","value":1},"value":0},"tickOpacity":{"condition":{"test":"indexof([1,10,100,1000,10000,100000],datum.value)>=0","value":0},"value":1}}},
  "stroke":{"field":"series","type":"nominal","scale":{"domain":["DparaPLL","DGLL","PLaNT","Hybrid","GLL (shared-memory)"],"range":["#4472C4","#ED7D31","#A5A5A5","#000000","#FF0000"]},"legend":{"title":null,"orient":"none","legendX":158,"legendY":-66,"direction":"horizontal","labelFontSize":22,"labelLimit":0,"labelColor":"#595959","symbolSize":150,"symbolStrokeWidth":2.5,"columnPadding":30,"labelOffset":14}},
  "fill":{"field":"series","type":"nominal","scale":{"domain":["DparaPLL","DGLL","PLaNT","Hybrid","GLL (shared-memory)"],"range":["transparent","transparent","transparent","transparent","#FF0000"]},"legend":{"title":null}},
  "shape":{"field":"series","type":"nominal","scale":{"domain":["DparaPLL","DGLL","PLaNT","Hybrid","GLL (shared-memory)"],"range":["circle","triangle-up","square","M-1,-1L1,1M-1,1L1,-1","diamond"]},"legend":{"title":null}}
 },
 "layer":[{"mark":{"type":"line","interpolate":"catmull-rom","strokeWidth":1.75}},{"mark":{"type":"point","filled":true,"size":85,"strokeWidth":2,"opacity":1}}]},
{"title":"POK","width":238,"height":125,"transform":[{"filter":"datum.panel==='POK'"}],
 "encoding":{
  "x":{"field":"cores","type":"quantitative","scale":{"type":"log","base":2,"domain":[8,512],"nice":false},"axis":{"values":[8,16,32,64,128,256,512],"title":"# Compute Cores","format":"d","labelOverlap":false,"labelExpr":"indexof([8,32,128,512],datum.value)>=0?datum.label:''","gridOpacity":{"condition":{"test":"indexof([8,32,128,512],datum.value)>=0","value":1},"value":0},"tickOpacity":{"condition":{"test":"indexof([8,32,128,512],datum.value)>=0","value":0},"value":1}}},
  "y":{"field":"time","type":"quantitative","scale":{"type":"log","domain":[100,100000],"nice":false},"axis":{"values":[100,200,300,400,500,600,700,800,900,1000,2000,3000,4000,5000,6000,7000,8000,9000,10000,20000,30000,40000,50000,60000,70000,80000,90000,100000],"title":null,"format":"d","labelOverlap":false,"labelExpr":"indexof([1,10,100,1000,10000,100000],datum.value)>=0?datum.label:''","gridOpacity":{"condition":{"test":"indexof([1,10,100,1000,10000,100000],datum.value)>=0","value":1},"value":0},"tickOpacity":{"condition":{"test":"indexof([1,10,100,1000,10000,100000],datum.value)>=0","value":0},"value":1}}},
  "stroke":{"field":"series","type":"nominal","scale":{"domain":["DparaPLL","DGLL","PLaNT","Hybrid","GLL (shared-memory)"],"range":["#4472C4","#ED7D31","#A5A5A5","#000000","#FF0000"]},"legend":{"title":null,"orient":"none","legendX":158,"legendY":-66,"direction":"horizontal","labelFontSize":22,"labelLimit":0,"labelColor":"#595959","symbolSize":150,"symbolStrokeWidth":2.5,"columnPadding":30,"labelOffset":14}},
  "fill":{"field":"series","type":"nominal","scale":{"domain":["DparaPLL","DGLL","PLaNT","Hybrid","GLL (shared-memory)"],"range":["transparent","transparent","transparent","transparent","#FF0000"]},"legend":{"title":null}},
  "shape":{"field":"series","type":"nominal","scale":{"domain":["DparaPLL","DGLL","PLaNT","Hybrid","GLL (shared-memory)"],"range":["circle","triangle-up","square","M-1,-1L1,1M-1,1L1,-1","diamond"]},"legend":{"title":null}}
 },
 "layer":[{"mark":{"type":"line","interpolate":"catmull-rom","strokeWidth":1.75}},{"mark":{"type":"point","filled":true,"size":85,"strokeWidth":2,"opacity":1}}]},
{"title":"LIJ","width":238,"height":125,"transform":[{"filter":"datum.panel==='LIJ'"}],
 "encoding":{
  "x":{"field":"cores","type":"quantitative","scale":{"type":"log","base":2,"domain":[8,512],"nice":false},"axis":{"values":[8,16,32,64,128,256,512],"title":"# Compute Cores","format":"d","labelOverlap":false,"labelExpr":"indexof([8,32,128,512],datum.value)>=0?datum.label:''","gridOpacity":{"condition":{"test":"indexof([8,32,128,512],datum.value)>=0","value":1},"value":0},"tickOpacity":{"condition":{"test":"indexof([8,32,128,512],datum.value)>=0","value":0},"value":1}}},
  "y":{"field":"time","type":"quantitative","scale":{"type":"log","domain":[100,10000],"nice":false},"axis":{"values":[100,200,300,400,500,600,700,800,900,1000,2000,3000,4000,5000,6000,7000,8000,9000,10000],"title":null,"format":"d","labelOverlap":false,"labelExpr":"indexof([1,10,100,1000,10000,100000],datum.value)>=0?datum.label:''","gridOpacity":{"condition":{"test":"indexof([1,10,100,1000,10000,100000],datum.value)>=0","value":1},"value":0},"tickOpacity":{"condition":{"test":"indexof([1,10,100,1000,10000,100000],datum.value)>=0","value":0},"value":1}}},
  "stroke":{"field":"series","type":"nominal","scale":{"domain":["DparaPLL","DGLL","PLaNT","Hybrid","GLL (shared-memory)"],"range":["#4472C4","#ED7D31","#A5A5A5","#000000","#FF0000"]},"legend":{"title":null,"orient":"none","legendX":158,"legendY":-66,"direction":"horizontal","labelFontSize":22,"labelLimit":0,"labelColor":"#595959","symbolSize":150,"symbolStrokeWidth":2.5,"columnPadding":30,"labelOffset":14}},
  "fill":{"field":"series","type":"nominal","scale":{"domain":["DparaPLL","DGLL","PLaNT","Hybrid","GLL (shared-memory)"],"range":["transparent","transparent","transparent","transparent","#FF0000"]},"legend":{"title":null}},
  "shape":{"field":"series","type":"nominal","scale":{"domain":["DparaPLL","DGLL","PLaNT","Hybrid","GLL (shared-memory)"],"range":["circle","triangle-up","square","M-1,-1L1,1M-1,1L1,-1","diamond"]},"legend":{"title":null}}
 },
 "layer":[{"mark":{"type":"line","interpolate":"catmull-rom","strokeWidth":1.75}},{"mark":{"type":"point","filled":true,"size":85,"strokeWidth":2,"opacity":1}}]}
],
"config":{
 "font":"Lato",
 "view":{"stroke":null},
 "axis":{"labelFontSize":13,"labelColor":"#595959","titleFontSize":16,"titleColor":"#595959","titleFontWeight":"normal","gridColor":"#D9D9D9","domainColor":"#BFBFBF","ticks":true,"tickSize":-4,"tickColor":"#BFBFBF","labelPadding":14,"titlePadding":11},
 "axisY":{"labelPadding":16,"titlePadding":12},
 "title":{"fontSize":17,"fontWeight":"normal","color":"#595959","offset":-3}
}
}
